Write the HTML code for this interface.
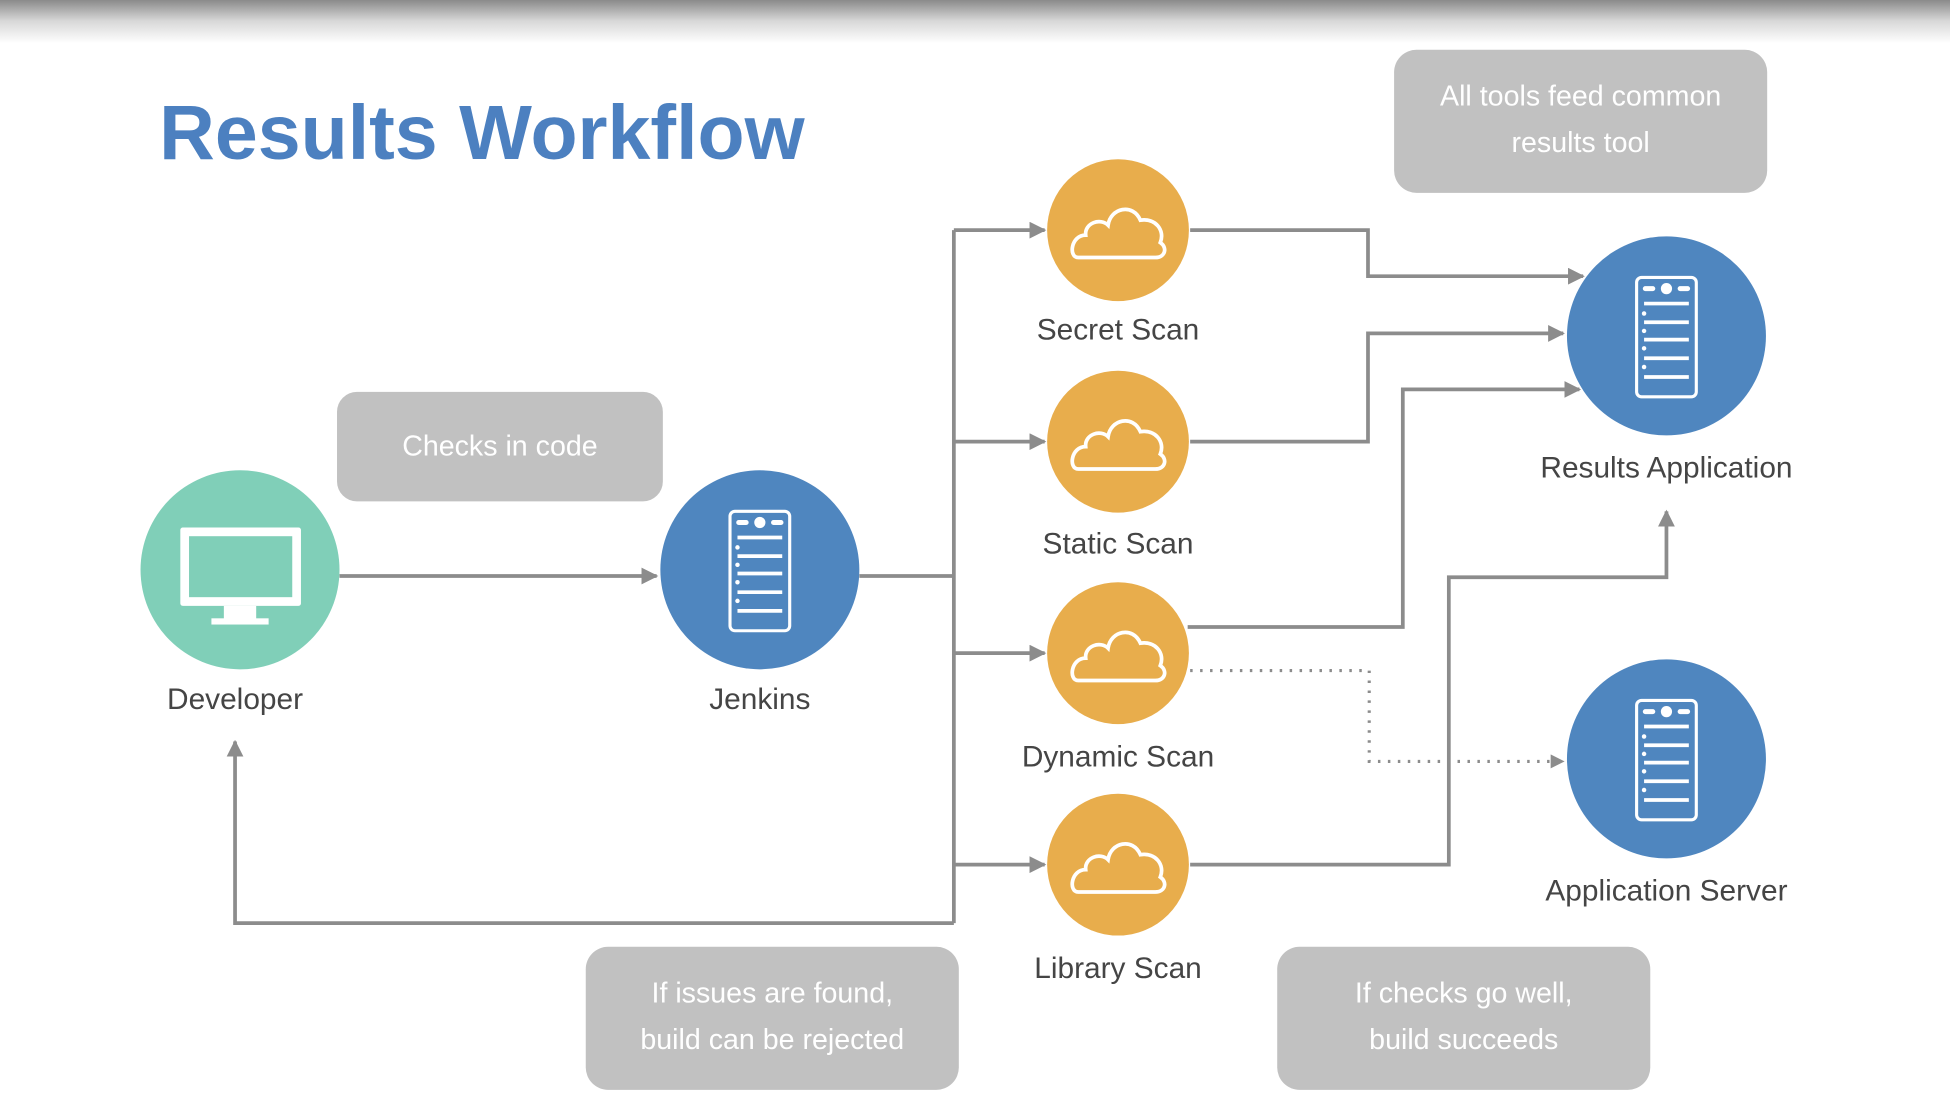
<!DOCTYPE html>
<html><head><meta charset="utf-8"><style>
html,body{margin:0;padding:0;background:#fff;}
svg{display:block}
text{font-family:"Liberation Sans",sans-serif;}
</style></head><body>
<svg width="1950" height="1106" viewBox="0 0 1568 889" preserveAspectRatio="none" xmlns="http://www.w3.org/2000/svg">
<defs>
<linearGradient id="tg" x1="0" y1="0" x2="0" y2="1">
<stop offset="0" stop-color="#8a8a8a"/><stop offset="0.5" stop-color="#d8d8d8"/><stop offset="1" stop-color="#fdfdfd"/>
</linearGradient>
<marker id="ar" viewBox="0 0 10 10" refX="9" refY="5" markerWidth="4.5" markerHeight="4.5" orient="auto" markerUnits="strokeWidth">
<path d="M0,0 L10,5 L0,10 z" fill="#8c8c8c"/></marker>
<g id="cloud"><path d="M-32,20 C-40,20 -38,2 -26,2 C-27,-8 -14,-12 -8,-6 C-6,-20 12,-24 18,-10 C30,-12 38,-2 34,8 C40,12 38,20 30,20 Z" fill="none" stroke="#fff" stroke-width="3"/></g>
<g id="server" fill="none" stroke="#fff">
<rect x="-24" y="-47" width="48" height="96" rx="4" stroke-width="2.5"/>
<circle cx="0" cy="-38" r="4.5" fill="#fff" stroke="none"/>
<line x1="-17" y1="-38" x2="-11" y2="-38" stroke-width="4" stroke-linecap="round"/>
<line x1="11" y1="-38" x2="17" y2="-38" stroke-width="4" stroke-linecap="round"/>
<line x1="-18" y1="-26" x2="18" y2="-26" stroke-width="3"/>
<line x1="-18" y1="-11" x2="18" y2="-11" stroke-width="3"/>
<line x1="-18" y1="3" x2="18" y2="3" stroke-width="3"/>
<line x1="-18" y1="18" x2="18" y2="18" stroke-width="3"/>
<line x1="-18" y1="33" x2="18" y2="33" stroke-width="3"/>
<circle cx="-18" cy="-18" r="1.8" fill="#fff" stroke="none"/>
<circle cx="-18" cy="-4" r="1.8" fill="#fff" stroke="none"/>
<circle cx="-18" cy="10" r="1.8" fill="#fff" stroke="none"/>
<circle cx="-18" cy="25" r="1.8" fill="#fff" stroke="none"/>
</g>
</defs>
<rect x="0" y="0" width="1568" height="34" fill="url(#tg)"/>
<text x="128" y="128" font-size="62" font-weight="bold" fill="#4c80c0">Results Workflow</text>

<g fill="#c1c1c1">
<rect x="1121" y="40" width="300" height="115" rx="18"/>
<rect x="271" y="315" width="262" height="88" rx="16"/>
<rect x="471" y="761" width="300" height="115" rx="18"/>
<rect x="1027" y="761" width="300" height="115" rx="18"/>
</g>
<g fill="#fff" font-size="23" text-anchor="middle">
<text x="1271" y="85">All tools feed common</text>
<text x="1271" y="122">results tool</text>
<text x="402" y="366">Checks in code</text>
<text x="621" y="806">If issues are found,</text>
<text x="621" y="843">build can be rejected</text>
<text x="1177" y="806">If checks go well,</text>
<text x="1177" y="843">build succeeds</text>
</g>

<g fill="none" stroke="#8c8c8c" stroke-width="3">
<line x1="273" y1="463" x2="528" y2="463" marker-end="url(#ar)"/>
<line x1="691" y1="463" x2="767" y2="463"/>
<line x1="767" y1="185" x2="767" y2="742"/>
<line x1="767" y1="185" x2="840" y2="185" marker-end="url(#ar)"/>
<line x1="767" y1="355" x2="840" y2="355" marker-end="url(#ar)"/>
<line x1="767" y1="525" x2="840" y2="525" marker-end="url(#ar)"/>
<line x1="767" y1="695" x2="840" y2="695" marker-end="url(#ar)"/>
<polyline points="767,742 189,742 189,596" marker-end="url(#ar)"/>
<polyline points="957,185 1100,185 1100,222 1273,222" marker-end="url(#ar)"/>
<polyline points="957,355 1100,355 1100,268 1257,268" marker-end="url(#ar)"/>
<polyline points="955,504 1128,504 1128,313 1270,313" marker-end="url(#ar)"/>
<polyline points="957,695 1165,695 1165,464 1340,464 1340,411" marker-end="url(#ar)"/>
<polyline points="957,539 1101,539 1101,612 1257,612" stroke-dasharray="2,6" stroke-width="2.5" marker-end="url(#ar)"/>
</g>

<circle cx="193" cy="458" r="80" fill="#80cfb8"/>
<g fill="#fff">
<rect x="145" y="424" width="97" height="63" rx="2"/>
<rect x="152" y="431" width="83" height="49" fill="#80cfb8"/>
<rect x="180" y="487" width="26" height="14"/>
<rect x="170" y="497" width="46" height="5"/>
</g>
<circle cx="611" cy="458" r="80" fill="#4f86bf"/>
<use href="#server" x="611" y="458"/>
<circle cx="1340" cy="270" r="80" fill="#4f86bf"/>
<use href="#server" x="1340" y="270"/>
<circle cx="1340" cy="610" r="80" fill="#4f86bf"/>
<use href="#server" x="1340" y="610"/>

<g fill="#e8ad4c">
<circle cx="899" cy="185" r="57"/><circle cx="899" cy="355" r="57"/>
<circle cx="899" cy="525" r="57"/><circle cx="899" cy="695" r="57"/>
</g>
<use href="#cloud" x="899" y="187"/>
<use href="#cloud" x="899" y="357"/>
<use href="#cloud" x="899" y="527"/>
<use href="#cloud" x="899" y="697"/>

<g fill="#454545" font-size="24" text-anchor="middle">
<text x="189" y="570">Developer</text>
<text x="611" y="570">Jenkins</text>
<text x="899" y="273">Secret Scan</text>
<text x="899" y="445">Static Scan</text>
<text x="899" y="616">Dynamic Scan</text>
<text x="899" y="786">Library Scan</text>
<text x="1340" y="384">Results Application</text>
<text x="1340" y="724">Application Server</text>
</g>
</svg>
</body></html>
